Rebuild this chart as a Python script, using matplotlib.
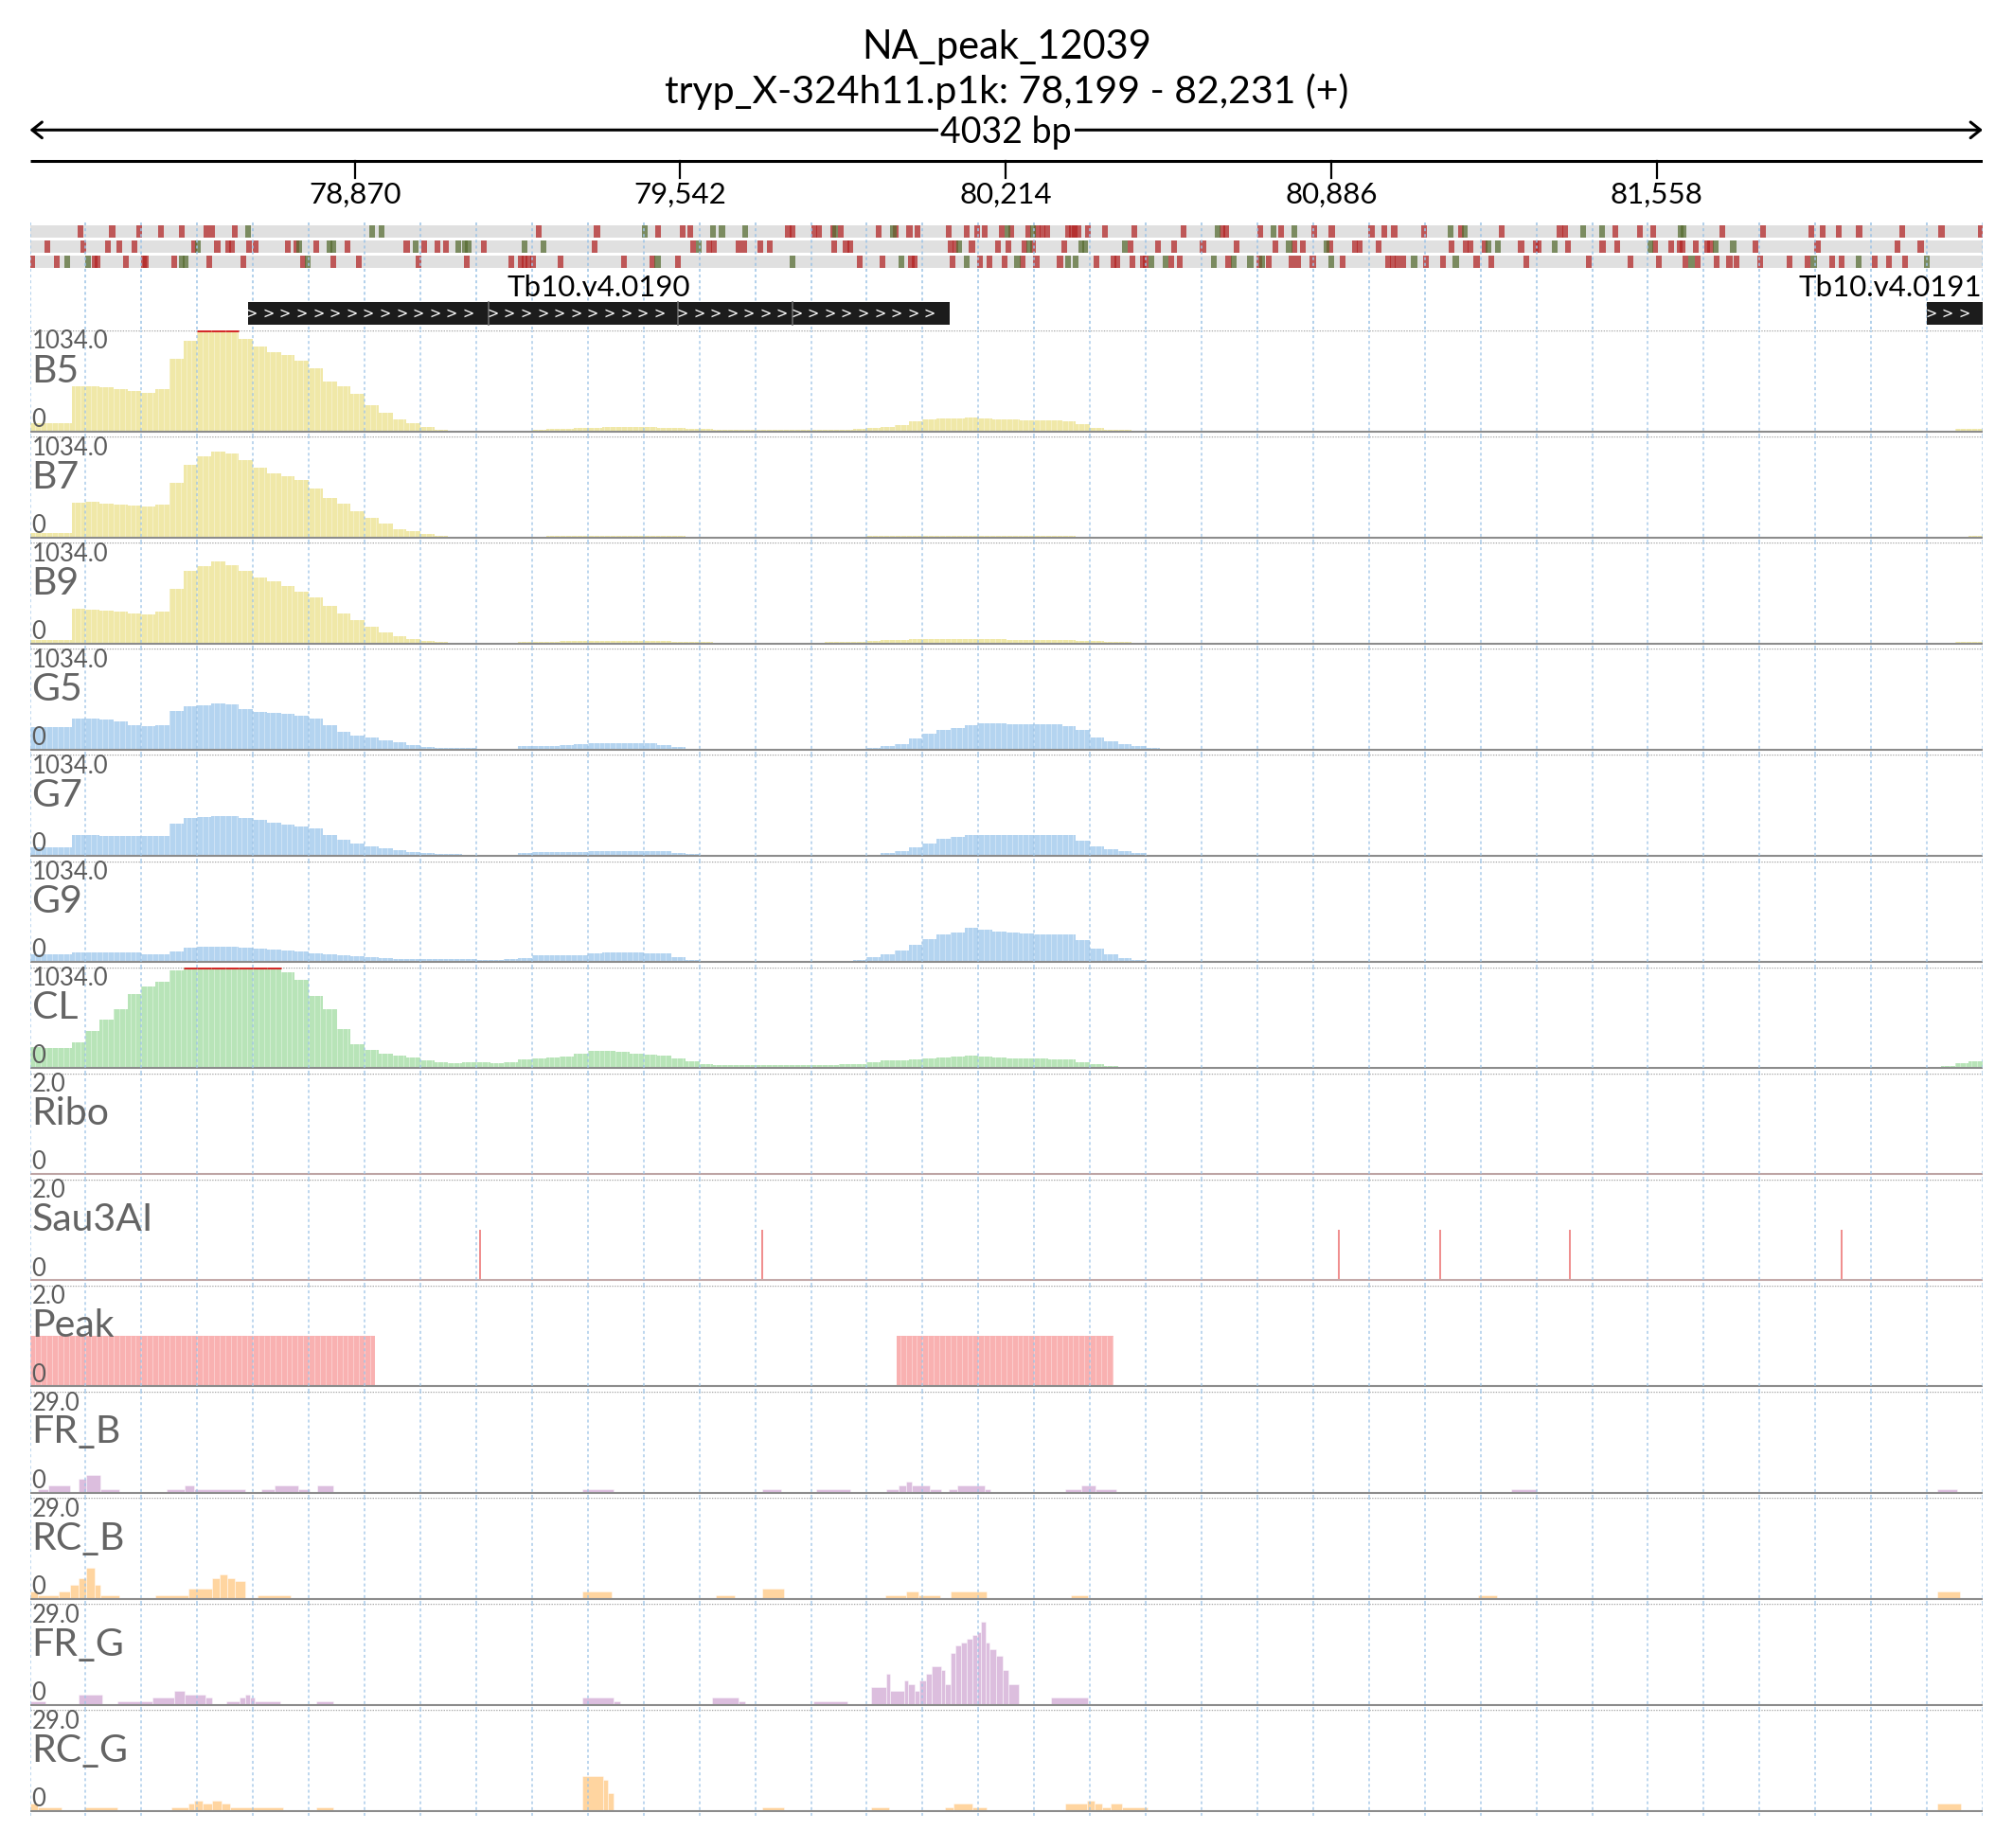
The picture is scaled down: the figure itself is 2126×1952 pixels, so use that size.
import numpy as np
import matplotlib
matplotlib.use("Agg")
import matplotlib.pyplot as plt

plt.rcParams['font.family'] = ['Lato', 'DejaVu Sans']

W, H = 2126, 1952
START, END = 78199, 82231
NBIN = 140
BIN = (END - START) / NBIN

title = "NA_peak_12039"
region = "tryp_X-324h11.p1k: 78,199 - 82,231 (+)"
ruler_ticks = [78870, 79542, 80214, 80886, 81558]

# variant calls, bp offsets from START, one list per row
var_red = [
    [104, 170, 226, 271, 314, 364, 376, 424, 1051, 1171, 1297, 1348, 1363, 1566, 1575, 1620, 1630,
     1658, 1675, 1753, 1788, 1816, 1833, 1897, 1935, 1956, 1972, 2007, 2026, 2061, 2080, 2090, 2100,
     2144, 2151, 2158, 2164, 2185, 2220, 2281, 2382, 2462, 2470, 2541, 2584, 2652, 2688, 2770, 2796,
     2817, 2878, 2955, 3039, 3159, 3170, 3273, 3324, 3351, 3495, 3578, 3678, 3701, 3735, 3777, 3866,
     3947, 4028],
    [36, 111, 162, 185, 216, 339, 387, 410, 417, 452, 467, 533, 550, 592, 656, 778, 815, 842, 860,
     938, 1166, 1370, 1403, 1413, 1463, 1475, 1508, 1528, 1660, 1685, 1694, 1901, 1911, 1945, 1999,
     2021, 2054, 2071, 2135, 2272, 2329, 2362, 2422, 2491, 2571, 2610, 2629, 2684, 2736, 2746, 2785,
     2935, 2965, 2975, 3004, 3079, 3110, 3115, 3175, 3247, 3278, 3355, 3388, 3406, 3412, 3439, 3463,
     3470, 3562, 3691, 3856, 3904],
    [4, 55, 134, 139, 198, 235, 240, 298, 370, 441, 564, 627, 679, 802, 903, 994, 1014, 1021, 1029,
     1039, 1095, 1227, 1286, 1338, 1713, 1761, 1820, 1827, 1905, 1962, 1981, 2012, 2049, 2078, 2127,
     2203, 2238, 2246, 2277, 2298, 2304, 2357, 2375, 2475, 2538, 2558, 2606, 2619, 2649, 2711, 2804,
     2814, 2824, 2835, 2882, 2918, 2987, 3017, 3090, 3218, 3305, 3363, 3419, 3443, 3482, 3509, 3524,
     3572, 3634, 3671, 3722, 3740, 3809, 3839, 3872],
]
var_green = [
    [451, 706, 727, 1270, 1411, 1429, 1477, 1662, 1783, 2019, 2072, 2452, 2568, 2610, 2934, 2962,
     3207, 3246, 3408, 3415],
    [347, 557, 619, 626, 797, 884, 899, 905, 1022, 1061, 1381, 1919, 2063, 2171, 2178, 2261, 2600,
     2678, 3011, 3031, 3148, 3346, 3481, 3517],
    [78, 120, 313, 322, 573, 1296, 1575, 1800, 1935, 2039, 2144, 2160, 2315, 2345, 2444, 2486, 2520,
     2545, 2687, 2858, 2944, 3431, 3683, 3776, 3917],
]

gene_names = ["Tb10.v4.0190", "Tb10.v4.0191"]
gene_start = [78649, 82116]
gene_end = [80099, 82231]
gene_breaks = [79147, 79538, 79774]

# coverage, 140 bins of 28.8 bp
b5 = [80, 80, 80, 460, 465, 450, 435, 410, 395, 430,
      740, 930, 1034, 1034, 1034, 950, 870, 815, 780, 720,
      650, 510, 465, 380, 265, 190, 120, 85, 40, 15,
      8, 5, 5, 5, 5, 5, 15, 20, 25, 30,
      35, 40, 40, 40, 40, 35, 30, 25, 20, 15,
      10, 10, 10, 10, 10, 10, 10, 15, 15, 20,
      30, 45, 65, 100, 120, 128, 133, 140, 135, 125,
      118, 115, 115, 115, 105, 70, 30, 15, 10, 8,
      5, 5, 5, 5, 5, 5, 5, 5, 5, 5,
      5, 5, 5, 5, 5, 5, 5, 5, 5, 5,
      5, 5, 5, 5, 5, 5, 5, 5, 5, 5,
      5, 5, 5, 5, 5, 5, 5, 5, 5, 5,
      5, 5, 5, 5, 5, 5, 5, 5, 5, 5,
      5, 5, 5, 5, 5, 5, 5, 8, 20, 25]
b7 = [40, 40, 40, 360, 365, 350, 335, 325, 315, 340,
      560, 740, 830, 880, 860, 790, 710, 655, 630, 590,
      500, 400, 350, 270, 200, 140, 85, 65, 35, 15,
      8, 6, 6, 6, 6, 8, 10, 12, 12, 15,
      15, 15, 15, 15, 15, 12, 12, 10, 8, 8,
      6, 6, 6, 6, 6, 6, 6, 8, 8, 10,
      12, 15, 15, 18, 18, 18, 18, 18, 18, 15,
      15, 15, 15, 12, 12, 10, 8, 6, 6, 6,
      5, 5, 5, 5, 5, 5, 5, 5, 5, 5,
      5, 5, 5, 5, 5, 5, 5, 5, 5, 5,
      5, 5, 5, 5, 5, 5, 5, 5, 5, 5,
      5, 5, 5, 5, 5, 5, 5, 5, 5, 5,
      5, 5, 5, 5, 5, 5, 5, 5, 5, 5,
      5, 5, 5, 5, 5, 5, 6, 8, 10, 12]
b9 = [40, 40, 40, 355, 350, 335, 325, 310, 300, 325,
      560, 740, 790, 840, 800, 740, 680, 640, 590, 530,
      470, 390, 310, 240, 170, 110, 75, 50, 25, 12,
      8, 8, 8, 8, 10, 12, 18, 20, 22, 25,
      25, 25, 25, 25, 25, 22, 20, 18, 12, 10,
      8, 8, 8, 8, 8, 8, 10, 12, 15, 20,
      25, 35, 40, 45, 48, 50, 50, 48, 45, 42,
      40, 40, 40, 38, 35, 30, 25, 20, 15, 10,
      5, 5, 5, 5, 5, 5, 5, 5, 5, 5,
      5, 5, 5, 5, 5, 5, 5, 5, 5, 5,
      5, 5, 5, 5, 5, 5, 5, 5, 5, 5,
      5, 5, 5, 5, 5, 5, 5, 5, 5, 5,
      5, 5, 5, 5, 5, 5, 5, 5, 5, 5,
      5, 5, 5, 5, 5, 5, 8, 10, 15, 18]
g5 = [233, 233, 233, 320, 318, 305, 290, 250, 243, 255,
      400, 440, 455, 470, 460, 420, 390, 375, 365, 345,
      320, 250, 180, 140, 120, 100, 80, 50, 25, 20,
      20, 15, 6, 5, 10, 38, 40, 40, 42, 55,
      70, 70, 70, 70, 65, 45, 25, 10, 5, 5,
      5, 5, 5, 5, 5, 5, 5, 5, 5, 10,
      20, 35, 55, 110, 165, 200, 225, 255, 273, 270,
      265, 263, 260, 258, 245, 199, 124, 85, 55, 40,
      20, 8, 4, 4, 4, 4, 4, 4, 4, 4,
      4, 4, 4, 4, 4, 4, 4, 4, 4, 4,
      4, 4, 4, 4, 4, 4, 4, 4, 4, 4,
      4, 4, 4, 4, 4, 4, 4, 4, 4, 4,
      4, 4, 4, 4, 4, 4, 4, 4, 4, 4,
      4, 4, 4, 4, 4, 4, 4, 5, 6, 8]
g7 = [85, 85, 85, 210, 214, 205, 200, 199, 199, 205,
      330, 390, 400, 410, 405, 385, 370, 340, 320, 300,
      280, 210, 160, 125, 100, 80, 60, 40, 28, 18,
      15, 12, 12, 12, 12, 30, 35, 35, 35, 35,
      50, 50, 50, 50, 50, 45, 30, 15, 5, 5,
      5, 5, 5, 5, 5, 5, 5, 5, 5, 5,
      10, 25, 45, 85, 130, 170, 195, 210, 214, 210,
      210, 210, 210, 210, 210, 150, 99, 70, 50, 25,
      10, 4, 4, 4, 4, 4, 4, 4, 4, 4,
      4, 4, 4, 4, 4, 4, 4, 4, 4, 4,
      4, 4, 4, 4, 4, 4, 4, 4, 4, 4,
      4, 4, 4, 4, 4, 4, 4, 4, 4, 4,
      4, 4, 4, 4, 4, 4, 4, 4, 4, 4,
      4, 4, 4, 4, 4, 4, 4, 5, 5, 6]
g9 = [75, 75, 75, 95, 100, 100, 100, 100, 80, 80,
      110, 150, 158, 160, 158, 150, 140, 130, 120, 110,
      90, 75, 65, 55, 45, 38, 28, 28, 28, 28,
      28, 28, 20, 18, 30, 40, 65, 65, 65, 65,
      90, 100, 100, 95, 85, 85, 50, 15, 4, 4,
      4, 4, 4, 4, 4, 4, 4, 4, 4, 15,
      45, 80, 115, 170, 230, 280, 300, 345, 330, 310,
      300, 290, 283, 283, 283, 225, 135, 75, 40, 15,
      6, 4, 4, 4, 4, 4, 4, 4, 4, 4,
      4, 4, 4, 4, 4, 4, 4, 4, 4, 4,
      4, 4, 4, 4, 4, 4, 4, 4, 4, 4,
      4, 4, 4, 4, 4, 4, 4, 4, 4, 4,
      4, 4, 4, 4, 4, 4, 4, 4, 4, 4,
      4, 4, 4, 4, 4, 4, 4, 4, 4, 4]
cl = [211, 205, 205, 260, 380, 500, 600, 760, 835, 880,
      1000, 1034, 1034, 1034, 1034, 1034, 1034, 1034, 980, 900,
      740, 600, 400, 240, 190, 150, 125, 110, 80, 55,
      50, 60, 55, 45, 55, 90, 95, 105, 115, 150,
      175, 175, 165, 145, 135, 130, 100, 70, 40, 30,
      30, 30, 30, 30, 30, 30, 30, 30, 35, 40,
      60, 75, 80, 90, 95, 105, 115, 125, 120, 110,
      100, 100, 95, 90, 85, 60, 40, 25, 15, 10,
      5, 5, 5, 5, 5, 5, 5, 5, 5, 5,
      5, 5, 5, 5, 5, 5, 5, 5, 5, 5,
      5, 5, 5, 5, 5, 5, 5, 5, 5, 5,
      5, 5, 5, 5, 5, 5, 5, 5, 5, 5,
      5, 5, 5, 5, 5, 5, 5, 5, 5, 5,
      5, 5, 5, 5, 5, 5, 10, 20, 45, 70]

sau3ai_sites = [79128, 79711, 80901, 81110, 81378, 81939]
peak_start = [78199, 79989]
peak_end = [78911, 80437]

# read counts as segments, bp offsets from START
fr_b_start = [16, 39, 100, 117, 146, 283, 319, 339, 478, 505, 554, 594, 1140, 1513, 1623, 1769,
              1793, 1810, 1821, 1858, 1898, 1915, 1971, 2138, 2171, 2201, 3059, 3938]
fr_b_end = [39, 84, 117, 146, 185, 319, 339, 445, 505, 554, 578, 627, 1205, 1552, 1693, 1793,
            1810, 1821, 1858, 1882, 1915, 1971, 1983, 2171, 2201, 2244, 3112, 3979]
fr_b_val = [1, 2, 4, 5, 1, 1, 2, 1, 1, 2, 1, 2, 1, 1, 1, 1, 2, 3, 2, 1, 1, 2, 1, 1, 2, 1, 1, 1]

rc_b_start = [0, 16, 60, 84, 100, 117, 133, 146, 259, 327, 376, 392, 408, 424, 470, 1140, 1416,
              1513, 1766, 1810, 1834, 1902, 2150, 2990, 3938]
rc_b_end = [16, 60, 84, 100, 117, 133, 146, 185, 327, 376, 392, 408, 424, 445, 538, 1202, 1456,
            1558, 1810, 1834, 1879, 1975, 2185, 3030, 3986]
rc_b_val = [2, 1, 2, 4, 6, 9, 4, 1, 1, 3, 6, 7, 6, 5, 1, 2, 1, 3, 1, 2, 1, 2, 1, 1, 2]

fr_g_start = [0, 100, 181, 254, 298, 319, 363, 405, 433, 445, 454, 465, 591, 1140, 1205, 1408,
              1464, 1618, 1737, 1769, 1777, 1805, 1814, 1826, 1837, 1850, 1863, 1882, 1890, 1902,
              1911, 1923, 1934, 1947, 1955, 1963, 1974, 1982, 1995, 2008, 2020, 2109]
fr_g_end = [32, 149, 254, 298, 319, 363, 376, 433, 445, 454, 465, 518, 627, 1205, 1218, 1464,
            1477, 1688, 1769, 1777, 1805, 1814, 1826, 1837, 1850, 1863, 1882, 1890, 1902, 1911,
            1923, 1934, 1947, 1955, 1963, 1974, 1982, 1995, 2008, 2020, 2041, 2185]
fr_g_val = [1, 3, 1, 2, 4, 3, 2, 1, 2, 3, 2, 1, 1, 2, 1, 2, 1, 1, 5, 9, 4, 7, 6, 4, 7, 9, 11, 10,
            6, 15, 17, 18, 19, 20, 21, 24, 18, 16, 14, 10, 6, 2]

rc_g_start = [0, 16, 113, 292, 327, 340, 356, 376, 395, 413, 591, 1140, 1183, 1194, 1513, 1737,
              1890, 1907, 1947, 2138, 2182, 2198, 2214, 2231, 2255, 3938]
rc_g_end = [16, 65, 181, 327, 340, 356, 376, 395, 413, 522, 627, 1183, 1194, 1205, 1558, 1774,
            1907, 1947, 1976, 2182, 2198, 2214, 2231, 2255, 2307, 3987]
rc_g_val = [2, 1, 1, 1, 2, 3, 2, 3, 2, 1, 1, 10, 9, 5, 1, 1, 1, 2, 1, 2, 3, 2, 1, 2, 1, 2]

# ---- layout (pixels of the output image)
X0, X1 = 31.5, 2094.0
TOP0, STEP, HT = 349.0, 112.1, 106.5
GRID = START + (END - START) / 35 * np.arange(36)
STRIPES = START + (END - START) / 350 * np.arange(351)
GRID_KW = dict(color="#9cc3e6", lw=1.1, ls=(0, (2, 2)))
LABEL_C = "#5c5c5c"

fig = plt.figure(figsize=(W / 100, H / 100), dpi=100)


def box(y_top, y_bot):
    return [X0 / W, 1 - y_bot / H, (X1 - X0) / W, (y_bot - y_top) / H]


# ---- header: title, ruler, variants, genes
top = fig.add_axes(box(0, TOP0))
top.set_xlim(START, END)
top.set_ylim(TOP0, 0)
top.axis("off")
mid = (START + END) / 2
top.text(mid, 62, title, ha="center", va="baseline", fontsize=30)
top.text(mid, 109, region, ha="center", va="baseline", fontsize=29.5)
top.annotate("", xy=(END, 137.3), xytext=(START, 137.3),
             arrowprops=dict(arrowstyle="<->,head_length=0.75,head_width=0.6", lw=2.2,
                             color="black", shrinkA=0, shrinkB=0))
top.text(mid, 151.5, f"{END - START} bp", ha="center", va="baseline", fontsize=27,
         bbox=dict(facecolor="white", edgecolor="none", pad=2))
top.plot([START, END], [169.7, 169.7], color="black", lw=2.2, solid_capstyle="butt")
for t in ruler_ticks:
    top.plot([t, t], [169.7, 188], color="black", lw=1.6)
    top.text(t, 215, f"{t:,}", ha="center", va="baseline", fontsize=22.5)

rows_y = [238, 254, 270]
for r in range(3):
    top.bar(START, 13, width=END - START, bottom=rows_y[r], align="edge",
            color="#e0e0e0", zorder=1)
    top.bar(START + np.array(var_red[r]), 13, width=12, bottom=rows_y[r],
            color="#b22222", alpha=0.72, zorder=1.2, linewidth=0)
    top.bar(START + np.array(var_green[r]), 13, width=12, bottom=rows_y[r],
            color="#556b2f", alpha=0.72, zorder=1.3, linewidth=0)
top.vlines(GRID, 235, TOP0, zorder=2, **GRID_KW)

for name, gs, ge in zip(gene_names, gene_start, gene_end):
    top.bar(gs, 24, width=ge - gs, bottom=319.3, align="edge", color="#1c1c1c", zorder=3)
    cuts = [gs] + [b for b in gene_breaks if gs < b < ge] + [ge]
    for a, b in zip(cuts[:-1], cuts[1:]):
        if a != gs:
            top.plot([a, a], [319.3, 343.3], color="#6a6a6a", lw=1.2, zorder=3.5)
        for c in np.arange(a + 8, b - 14, 34.4):
            top.text(c, 331.5, ">", color="white", fontsize=10.5, ha="center", va="center",
                     family="DejaVu Sans", zorder=4)
    if ge >= END - 1:
        top.text(END - 2, 313, name, ha="right", va="baseline", fontsize=22.5)
    else:
        top.text((gs + ge) / 2, 313, name, ha="center", va="baseline", fontsize=22.5)


# ---- data tracks
def new_track(k, name, ymax, base_color="#8c8c8c"):
    yt = TOP0 + STEP * k
    ax = fig.add_axes(box(yt, yt + STEP))
    ax.set_xlim(START, END)
    ax.set_ylim(-ymax * (STEP - HT) / HT, ymax)
    ax.axis("off")
    ax.axhline(ymax, color="#a8a8a8", lw=1.0, ls=(0, (1, 1)), zorder=0.5)
    ax.axhline(0, color=base_color, lw=1.5, zorder=2)
    ax.vlines(GRID, ax.get_ylim()[0], ymax, zorder=3, alpha=0.85, **GRID_KW)
    tr = ax.transAxes
    ax.text(0.001, 1 - 19.5 / STEP, f"{ymax:.1f}", transform=tr, fontsize=18.5,
            color=LABEL_C, va="baseline", zorder=5)
    ax.text(0.001, 1 - 54.5 / STEP, name, transform=tr, fontsize=29.5,
            color="#646464", va="baseline", zorder=5)
    ax.text(0.001, 1 - 101.7 / STEP, "0", transform=tr, fontsize=18.5,
            color=LABEL_C, va="baseline", zorder=5)
    return ax


def texture(ax, ymax):
    # thin light separators like the browser's per-pixel bars
    ax.vlines(STRIPES, 0, ymax, color="white", alpha=0.35, lw=0.7, zorder=1.5)


def coverage(ax, vals, color, ymax):
    v = np.array(vals, dtype=float)
    x = START + BIN * np.arange(len(v))
    ax.bar(x, v, width=BIN, align="edge", color=color, linewidth=0, zorder=1)
    texture(ax, ymax)
    for i in np.where(v >= ymax)[0]:
        ax.hlines(ymax, x[i], x[i] + BIN, color="#d42a2a", lw=2.2, zorder=4)


def segments(ax, s, e, vals, color):
    s = START + np.array(s)
    e = START + np.array(e)
    ax.bar(s, vals, width=e - s, align="edge", color=color,
           edgecolor=(1, 1, 1, 0.5), linewidth=0.6, zorder=1)


cov_tracks = [("B5", b5, "#f0e8a8"), ("B7", b7, "#f0e8a8"), ("B9", b9, "#f0e8a8"),
              ("G5", g5, "#b4d4f0"), ("G7", g7, "#b4d4f0"), ("G9", g9, "#b4d4f0"),
              ("CL", cl, "#b8e4b8")]
for k, (name, vals, color) in enumerate(cov_tracks):
    ax = new_track(k, name, 1034.0)
    coverage(ax, vals, color, 1034.0)

ax = new_track(7, "Ribo", 2.0, base_color="#bda4a4")

ax = new_track(8, "Sau3AI", 2.0, base_color="#c4aaaa")
ax.vlines(sau3ai_sites, 0, 1.0, color="#f08c8c", lw=1.4, zorder=1)

ax = new_track(9, "Peak", 2.0)
ax.bar(peak_start, 1.0, width=np.array(peak_end) - np.array(peak_start), align="edge",
       color="#f9b1b1", linewidth=0, zorder=1)
texture(ax, 1.0)

ax = new_track(10, "FR_B", 29.0)
segments(ax, fr_b_start, fr_b_end, fr_b_val, "#dcbede")
ax = new_track(11, "RC_B", 29.0)
segments(ax, rc_b_start, rc_b_end, rc_b_val, "#ffd5a0")
ax = new_track(12, "FR_G", 29.0)
segments(ax, fr_g_start, fr_g_end, fr_g_val, "#dcbede")
ax = new_track(13, "RC_G", 29.0)
segments(ax, rc_g_start, rc_g_end, rc_g_val, "#ffd5a0")

fig.savefig("out.png", dpi=100, facecolor="white")
